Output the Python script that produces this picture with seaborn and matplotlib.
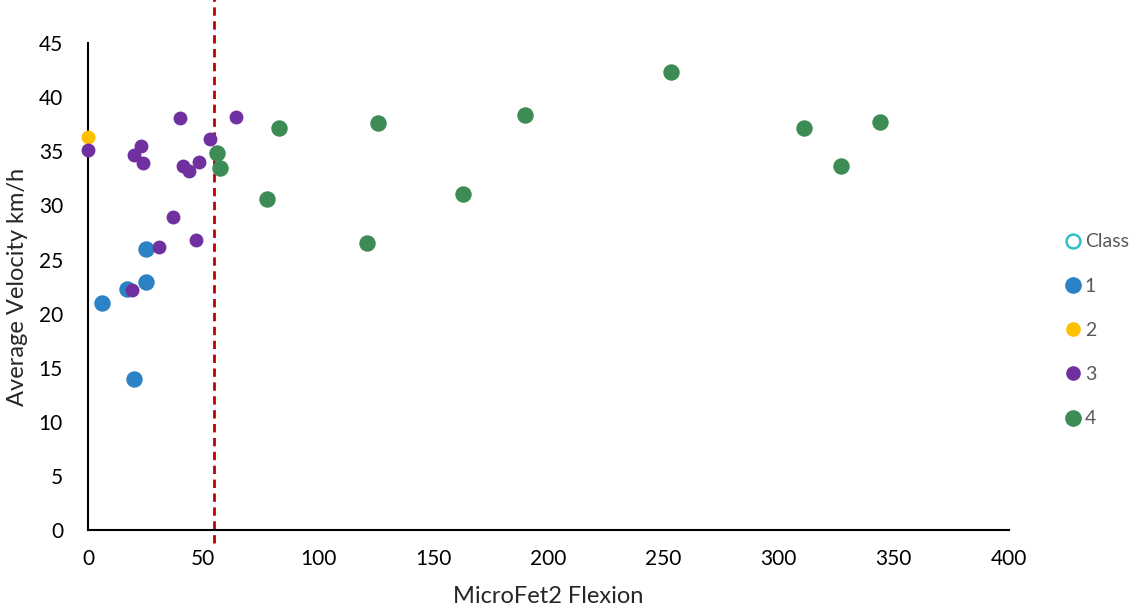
import pandas as pd
import seaborn as sns
import matplotlib.pyplot as plt
import matplotlib.transforms as mtransforms
from matplotlib.lines import Line2D

# Data
class1_x = [6.1, 16.9, 25.2, 25.2, 20.0]
class1_y = [21.0, 22.3, 22.9, 26.0, 14.0]

class2_x = [0.0]
class2_y = [36.3]

class3_x = [0.0, 22.9, 20.0, 24.0, 40.1, 64.1, 53.0, 41.1, 44.0, 48.1, 37.1, 31.0, 46.9, 19.0]
class3_y = [35.1, 35.5, 34.7, 33.9, 38.1, 38.2, 36.1, 33.6, 33.2, 34.0, 28.9, 26.2, 26.8, 22.2]

class4_x = [56.0, 57.2, 77.9, 83.0, 126.0, 121.2, 162.9, 189.8, 253.2, 311.0, 327.0, 344.0]
class4_y = [34.8, 33.5, 30.6, 37.2, 37.6, 26.5, 31.1, 38.4, 42.3, 37.2, 33.6, 37.7]

cutoff = 54.7

classes = ['1', '2', '3', '4']
colors = {'1': '#2B83C6', '2': '#FFC000', '3': '#7030A0', '4': '#3D8B55'}
sizes = {'1': 140, '2': 100, '3': 100, '4': 140}

df = pd.concat([
    pd.DataFrame({'x': class1_x, 'y': class1_y, 'Class': '1'}),
    pd.DataFrame({'x': class2_x, 'y': class2_y, 'Class': '2'}),
    pd.DataFrame({'x': class3_x, 'y': class3_y, 'Class': '3'}),
    pd.DataFrame({'x': class4_x, 'y': class4_y, 'Class': '4'}),
])

sns.set_style('white')
plt.rcParams['font.family'] = ['Lato', 'DejaVu Sans']

fig = plt.figure(figsize=(11.4, 6.16), dpi=100)
ax = fig.add_axes([0.0772, 0.1396, 0.8078, 0.7904])

for c in classes:
    sub = df[df['Class'] == c]
    sns.scatterplot(data=sub, x='x', y='y', color=colors[c], s=sizes[c],
                    linewidth=0, ax=ax, clip_on=False, zorder=3)

# dashed cut-off line runs a bit past the axes at both ends
trans = mtransforms.blended_transform_factory(ax.transData, ax.transAxes)
ax.plot([cutoff, cutoff], [-0.027, 1.09], transform=trans, color='#C00000',
        linestyle=(0, (3, 2)), linewidth=2, zorder=2, clip_on=False)

ax.set_xlim(0, 400)
ax.set_ylim(0, 45)
ax.set_xticks(range(0, 401, 50))
ax.set_yticks(range(0, 46, 5))
ax.tick_params(axis='both', length=0, labelsize=15, colors='black')
ax.tick_params(axis='x', pad=14)
ax.tick_params(axis='y', pad=18)
ax.set_xlabel('MicroFet2 Flexion', fontsize=17, color='#262626', labelpad=12)
ax.set_ylabel('Average Velocity km/h', fontsize=17, color='#262626', labelpad=8)

sns.despine(ax=ax)
for side in ['left', 'bottom']:
    ax.spines[side].set_color('black')
    ax.spines[side].set_linewidth(1.5)

handles = [Line2D([], [], marker='o', linestyle='none', markerfacecolor='none',
                  markeredgecolor='#30C0C8', markeredgewidth=1.8, markersize=10)]
labels = ['Class']
for c in classes:
    handles.append(Line2D([], [], marker='o', linestyle='none', color=colors[c],
                          markersize=11 if sizes[c] > 100 else 9.5))
    labels.append(c)

leg = ax.legend(handles, labels, loc='center left', bbox_to_anchor=(1.038, 0.41),
                frameon=False, fontsize=14, handletextpad=0.0, labelspacing=1.4,
                handlelength=1.2)
for t in leg.get_texts():
    t.set_color('#595959')

fig.savefig('out.png', dpi=100)
